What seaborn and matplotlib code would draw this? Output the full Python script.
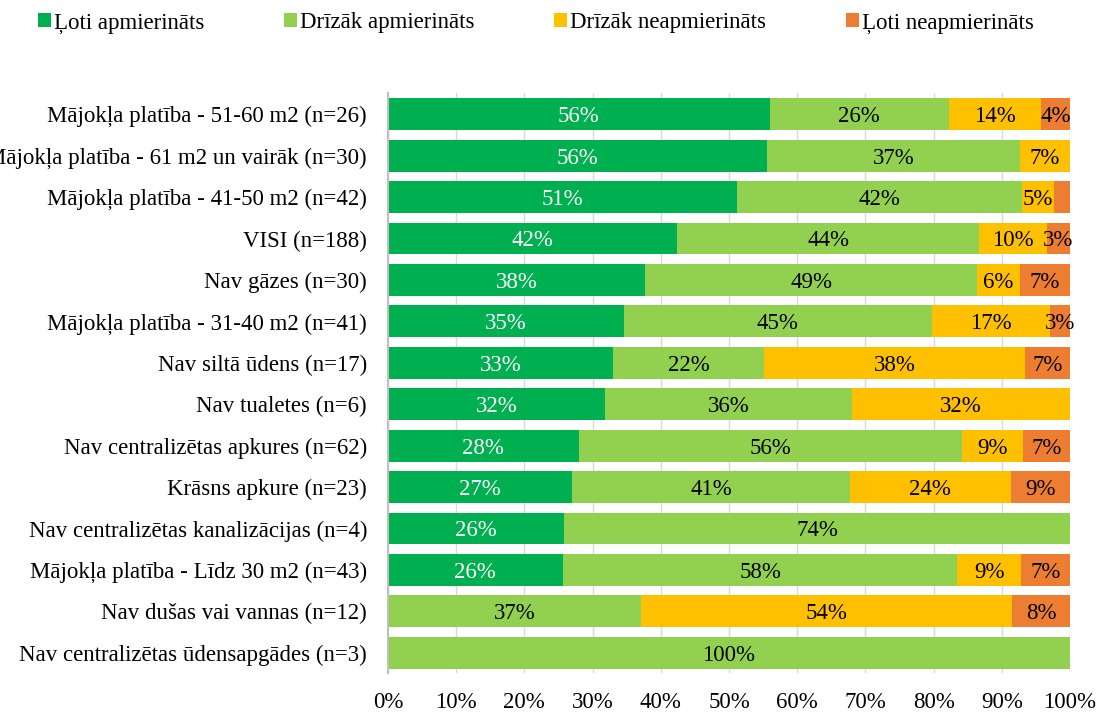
import numpy as np
import pandas as pd
import matplotlib
matplotlib.use("Agg")
import matplotlib.pyplot as plt
from matplotlib.patches import Patch
import seaborn as sns

sns.set_theme(style="white")
plt.rcParams["font.family"] = ["Liberation Serif", "DejaVu Serif"]
plt.rcParams["text.color"] = "black"
plt.rcParams["xtick.color"] = "black"
plt.rcParams["ytick.color"] = "black"

categories = [
    "Mājokļa platība - 51-60 m2 (n=26)",
    "Mājokļa platība - 61 m2 un vairāk (n=30)",
    "Mājokļa platība - 41-50 m2 (n=42)",
    "VISI (n=188)",
    "Nav gāzes (n=30)",
    "Mājokļa platība - 31-40 m2 (n=41)",
    "Nav siltā ūdens (n=17)",
    "Nav tualetes (n=6)",
    "Nav centralizētas apkures (n=62)",
    "Krāsns apkure (n=23)",
    "Nav centralizētas kanalizācijas (n=4)",
    "Mājokļa platība - Līdz 30 m2 (n=43)",
    "Nav dušas vai vannas (n=12)",
    "Nav centralizētas ūdensapgādes (n=3)",
]
series = ["Ļoti apmierināts", "Drīzāk apmierināts", "Drīzāk neapmierināts", "Ļoti neapmierināts"]

loti_apm = [56.0, 55.6, 51.2, 42.4, 37.7, 34.6, 33.0, 31.8, 28.0, 27.0, 25.8, 25.6, 0.0, 0.0]
drizak_apm = [26.2, 37.1, 41.7, 44.3, 48.7, 45.1, 22.1, 36.2, 56.2, 40.7, 74.2, 57.9, 37.1, 100.0]
drizak_neapm = [13.6, 7.3, 4.8, 9.9, 6.2, 17.3, 38.3, 32.0, 8.9, 23.6, 0.0, 9.3, 54.4, 0.0]
loti_neapm = [4.2, 0.0, 2.3, 3.4, 7.4, 3.0, 6.6, 0.0, 6.9, 8.7, 0.0, 7.2, 8.5, 0.0]

colors = ["#00B050", "#92D050", "#FFC000", "#ED7D31"]
text_colors = ["white", "black", "black", "black"]
FS = 16.5

df = pd.DataFrame(
    {s: v for s, v in zip(series, [loti_apm, drizak_apm, drizak_neapm, loti_neapm])},
    index=categories,
)
cum = df.cumsum(axis=1)

fig = plt.figure(figsize=(11.02, 7.13), dpi=100)
ax = fig.add_axes([0.352, 0.0554, 0.619, 0.8135])

# draw stacked bars back to front using cumulative totals
for s, c in reversed(list(zip(series, colors))):
    sns.barplot(x=cum[s].values, y=categories, color=c, orient="h",
                width=0.77, linewidth=0, ax=ax, saturation=1)

# value labels
for i, cat in enumerate(categories):
    for s, tc in zip(series, text_colors):
        v = df.loc[cat, s]
        if v >= 2.5:
            ax.text(cum.loc[cat, s] - v / 2, i, f"{v:.0f}%", ha="center",
                    va="center_baseline", color=tc, fontsize=FS)

ax.set_xlim(0, 100)
ax.set_ylim(13.5, -0.5)
ax.set_xticks(np.arange(0, 101, 10))
ax.set_xticklabels([f"{t}%" for t in range(0, 101, 10)], fontsize=FS)
ax.tick_params(axis="y", labelsize=FS, length=0, pad=15)
ax.tick_params(axis="x", length=0, pad=13)
ax.set_xlabel("")
ax.set_ylabel("")
ax.xaxis.grid(True, color="#d9d9d9", linewidth=1)
ax.set_axisbelow(True)
for side in ["top", "right", "bottom"]:
    ax.spines[side].set_visible(False)
ax.spines["left"].set_color("#bfbfbf")
ax.spines["left"].set_linewidth(1.5)

handles = [Patch(facecolor=c, edgecolor="none") for c in colors]
fig.legend(handles, series, loc="upper left", bbox_to_anchor=(0.022, 1.002), ncol=4,
           frameon=False, fontsize=FS, handlelength=0.57, handleheight=0.57,
           handletextpad=0.15, columnspacing=3.45, borderaxespad=0.2)

fig.savefig("out.png", dpi=100)
